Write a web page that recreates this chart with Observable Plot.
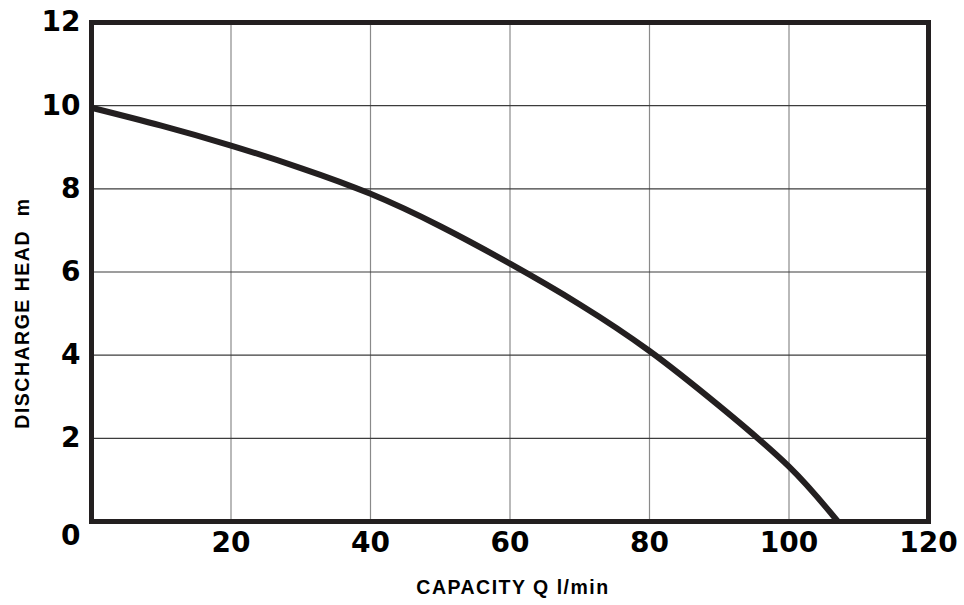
<!DOCTYPE html>
<html>
<head>
<meta charset="utf-8">
<script src="https://cdn.jsdelivr.net/npm/d3@7"></script>
<script src="https://cdn.jsdelivr.net/npm/@observablehq/plot@0.6"></script>
<style>
  html, body { margin: 0; padding: 0; background: #fff; }
  #chart svg { display: block; }
</style>
</head>
<body>
<div id="chart"></div>
<script>
// Pump curve: capacity Q (l/min) vs discharge head (m)
const capacity = [0, 10, 20, 30, 40, 50, 60, 70, 80, 90, 100, 107];
const head     = [9.95, 9.52, 9.04, 8.50, 7.88, 7.10, 6.20, 5.22, 4.10, 2.78, 1.32, 0];

const xTicks = [20, 40, 60, 80, 100, 120];
const yTicks = [2, 4, 6, 8, 10, 12];
const xGridTicks = [20, 40, 60, 80, 100];
const yGridTicks = [2, 4, 6, 8, 10];
const xTitle = "CAPACITY Q l/min";
const yTitle = "DISCHARGE HEAD  m";
const originLabel = "0";

const data = capacity.map((q, i) => ({q, h: head[i]}));

const ink = "#231f20";
const tickFont = "DejaVu Sans, Liberation Sans, sans-serif";
const titleFont = "Liberation Sans, Arial, sans-serif";

const chart = Plot.plot({
  width: 964,
  height: 605,
  marginLeft: 91,
  marginRight: 36,
  marginTop: 22,
  marginBottom: 84,
  x: {domain: [0, 120]},
  y: {domain: [0, 12]},
  style: {background: "#fff", color: ink},
  marks: [
    Plot.gridX(xGridTicks, {stroke: "#8a8a8a", strokeOpacity: 1, strokeWidth: 1.2}),
    Plot.gridY(yGridTicks, {stroke: "#3c3c3c", strokeOpacity: 1, strokeWidth: 1.1}),
    Plot.line(data, {x: "q", y: "h", curve: "natural", stroke: ink, strokeWidth: 6, strokeLinecap: "butt"}),
    Plot.frame({stroke: ink, strokeWidth: 5}),
    Plot.axisY(yTicks, {
      tickSize: 0, tickPadding: 11, label: null,
      fontSize: 28, fontWeight: "bold", fontFamily: tickFont, fill: "#000"
    }),
    Plot.axisX(xTicks, {
      tickSize: 0, tickPadding: 11, label: null,
      fontSize: 28, fontWeight: "bold", fontFamily: tickFont, fill: "#000"
    }),
    Plot.text([originLabel], {
      x: () => 0, y: () => 0, text: d => d,
      textAnchor: "end", dx: -11, dy: 15,
      fontSize: 28, fontWeight: "bold", fontFamily: tickFont, fill: "#000"
    }),
    Plot.text([xTitle], {
      frameAnchor: "bottom", text: d => d, textAnchor: "middle", dx: 3, dy: 72,
      fontSize: 19.5, fontWeight: "bold", fontFamily: titleFont, fill: "#000"
    }),
    Plot.text([yTitle], {
      frameAnchor: "left", text: d => d, textAnchor: "middle", rotate: -90, dx: -69, dy: 41,
      fontSize: 19.5, fontWeight: "bold", fontFamily: titleFont, fill: "#000"
    })
  ]
});

// widen the axis titles to match the reference's letter spacing
d3.select(chart).selectAll("text")
  .filter(function () { return this.textContent === xTitle || this.textContent === yTitle; })
  .style("letter-spacing", "1.5px");

document.getElementById("chart").appendChild(chart);
</script>
</body>
</html>
